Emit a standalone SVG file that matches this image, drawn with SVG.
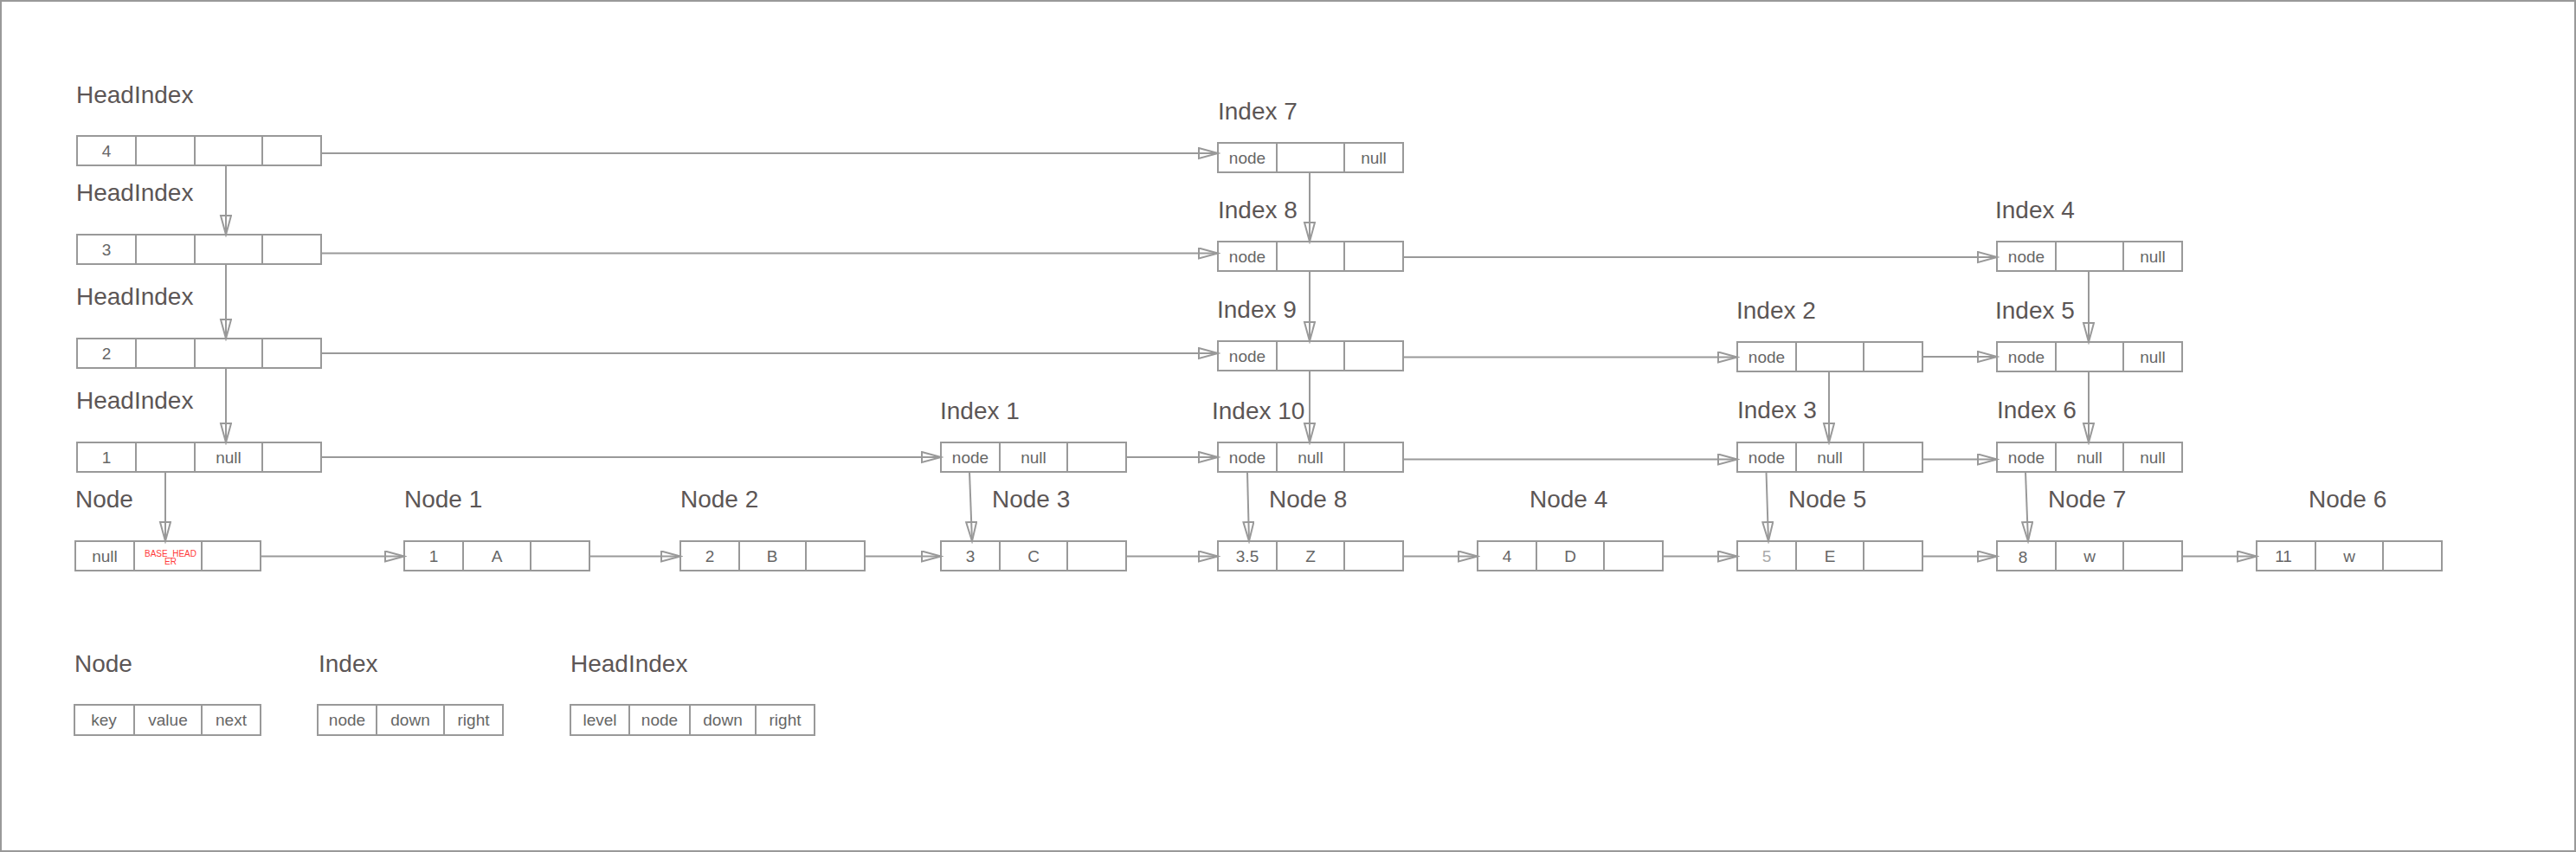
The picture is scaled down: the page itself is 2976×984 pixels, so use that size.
<svg xmlns="http://www.w3.org/2000/svg" width="2976" height="984" viewBox="0 0 2976 984">
<style>
.bx{fill:#fff;stroke:#999;stroke-width:2}
.dv{stroke:#999;stroke-width:2}
.lbl{font-family:"Liberation Sans",Arial,sans-serif;font-size:28px;fill:#5c5656}
.c{font-family:"Liberation Sans",Arial,sans-serif;font-size:19px;fill:#666;text-anchor:middle}
.red{font-family:"Liberation Sans",Arial,sans-serif;font-size:10px;fill:#ff3b3b;text-anchor:middle}
.lt{fill:#aaa}
.cn line{stroke:#999;stroke-width:2;fill:none;marker-end:url(#ah)}
</style>
<defs>
<marker id="ah" markerUnits="userSpaceOnUse" markerWidth="26" markerHeight="16" refX="23" refY="7" orient="auto">
<path d="M1,1 L23,7 L1,13 Z" fill="none" stroke="#999" stroke-width="2"/>
</marker>
</defs>
<rect x="1" y="1" width="2974" height="982" fill="#fff" stroke="#999" stroke-width="2"/>

<!-- Head indexes -->
<g id="head4">
<text class="lbl" x="88" y="119">HeadIndex</text>
<rect class="bx" x="89" y="157" width="282" height="34"/>
<line class="dv" x1="157" y1="157" x2="157" y2="191"/><line class="dv" x1="225" y1="157" x2="225" y2="191"/><line class="dv" x1="303" y1="157" x2="303" y2="191"/>
<text class="c" x="123" y="181">4</text>
</g>
<g id="head3">
<text class="lbl" x="88" y="232">HeadIndex</text>
<rect class="bx" x="89" y="271" width="282" height="34"/>
<line class="dv" x1="157" y1="271" x2="157" y2="305"/><line class="dv" x1="225" y1="271" x2="225" y2="305"/><line class="dv" x1="303" y1="271" x2="303" y2="305"/>
<text class="c" x="123" y="295">3</text>
</g>
<g id="head2">
<text class="lbl" x="88" y="352">HeadIndex</text>
<rect class="bx" x="89" y="391" width="282" height="34"/>
<line class="dv" x1="157" y1="391" x2="157" y2="425"/><line class="dv" x1="225" y1="391" x2="225" y2="425"/><line class="dv" x1="303" y1="391" x2="303" y2="425"/>
<text class="c" x="123" y="415">2</text>
</g>
<g id="head1">
<text class="lbl" x="88" y="472">HeadIndex</text>
<rect class="bx" x="89" y="511" width="282" height="34"/>
<line class="dv" x1="157" y1="511" x2="157" y2="545"/><line class="dv" x1="225" y1="511" x2="225" y2="545"/><line class="dv" x1="303" y1="511" x2="303" y2="545"/>
<text class="c" x="123" y="535">1</text>
<text class="c" x="264" y="535">null</text>
</g>

<!-- Index column 1407 -->
<g id="index7">
<text class="lbl" x="1407" y="138">Index 7</text>
<rect class="bx" x="1407" y="165" width="214" height="34"/>
<line class="dv" x1="1475" y1="165" x2="1475" y2="199"/><line class="dv" x1="1553" y1="165" x2="1553" y2="199"/>
<text class="c" x="1441" y="189">node</text><text class="c" x="1587" y="189">null</text>
</g>
<g id="index8">
<text class="lbl" x="1407" y="252">Index 8</text>
<rect class="bx" x="1407" y="279" width="214" height="34"/>
<line class="dv" x1="1475" y1="279" x2="1475" y2="313"/><line class="dv" x1="1553" y1="279" x2="1553" y2="313"/>
<text class="c" x="1441" y="303">node</text>
</g>
<g id="index9">
<text class="lbl" x="1406" y="367">Index 9</text>
<rect class="bx" x="1407" y="394" width="214" height="34"/>
<line class="dv" x1="1475" y1="394" x2="1475" y2="428"/><line class="dv" x1="1553" y1="394" x2="1553" y2="428"/>
<text class="c" x="1441" y="418">node</text>
</g>
<g id="index10">
<text class="lbl" x="1400" y="484">Index 10</text>
<rect class="bx" x="1407" y="511" width="214" height="34"/>
<line class="dv" x1="1475" y1="511" x2="1475" y2="545"/><line class="dv" x1="1553" y1="511" x2="1553" y2="545"/>
<text class="c" x="1441" y="535">node</text><text class="c" x="1514" y="535">null</text>
</g>
<g id="index1">
<text class="lbl" x="1086" y="484">Index 1</text>
<rect class="bx" x="1087" y="511" width="214" height="34"/>
<line class="dv" x1="1155" y1="511" x2="1155" y2="545"/><line class="dv" x1="1233" y1="511" x2="1233" y2="545"/>
<text class="c" x="1121" y="535">node</text><text class="c" x="1194" y="535">null</text>
</g>
<g id="index2">
<text class="lbl" x="2006" y="368">Index 2</text>
<rect class="bx" x="2007" y="395" width="214" height="34"/>
<line class="dv" x1="2075" y1="395" x2="2075" y2="429"/><line class="dv" x1="2153" y1="395" x2="2153" y2="429"/>
<text class="c" x="2041" y="419">node</text>
</g>
<g id="index3">
<text class="lbl" x="2007" y="483">Index 3</text>
<rect class="bx" x="2007" y="511" width="214" height="34"/>
<line class="dv" x1="2075" y1="511" x2="2075" y2="545"/><line class="dv" x1="2153" y1="511" x2="2153" y2="545"/>
<text class="c" x="2041" y="535">node</text><text class="c" x="2114" y="535">null</text>
</g>
<g id="index4">
<text class="lbl" x="2305" y="252">Index 4</text>
<rect class="bx" x="2307" y="279" width="214" height="34"/>
<line class="dv" x1="2375" y1="279" x2="2375" y2="313"/><line class="dv" x1="2453" y1="279" x2="2453" y2="313"/>
<text class="c" x="2341" y="303">node</text><text class="c" x="2487" y="303">null</text>
</g>
<g id="index5">
<text class="lbl" x="2305" y="368">Index 5</text>
<rect class="bx" x="2307" y="395" width="214" height="34"/>
<line class="dv" x1="2375" y1="395" x2="2375" y2="429"/><line class="dv" x1="2453" y1="395" x2="2453" y2="429"/>
<text class="c" x="2341" y="419">node</text><text class="c" x="2487" y="419">null</text>
</g>
<g id="index6">
<text class="lbl" x="2307" y="483">Index 6</text>
<rect class="bx" x="2307" y="511" width="214" height="34"/>
<line class="dv" x1="2375" y1="511" x2="2375" y2="545"/><line class="dv" x1="2453" y1="511" x2="2453" y2="545"/>
<text class="c" x="2341" y="535">node</text><text class="c" x="2414" y="535">null</text><text class="c" x="2487" y="535">null</text>
</g>

<!-- Nodes -->
<g id="node0">
<text class="lbl" x="87" y="586">Node</text>
<rect class="bx" x="87" y="625" width="214" height="34"/>
<line class="dv" x1="155" y1="625" x2="155" y2="659"/><line class="dv" x1="233" y1="625" x2="233" y2="659"/>
<text class="c" x="121" y="649">null</text>
<text class="red" x="197" y="643">BASE_HEAD</text><text class="red" x="197" y="652">ER</text>
</g>
<g id="node1">
<text class="lbl" x="467" y="586">Node 1</text>
<rect class="bx" x="467" y="625" width="214" height="34"/>
<line class="dv" x1="535" y1="625" x2="535" y2="659"/><line class="dv" x1="613" y1="625" x2="613" y2="659"/>
<text class="c" x="501" y="649">1</text><text class="c" x="574" y="649">A</text>
</g>
<g id="node2">
<text class="lbl" x="786" y="586">Node 2</text>
<rect class="bx" x="786" y="625" width="213" height="34"/>
<line class="dv" x1="854" y1="625" x2="854" y2="659"/><line class="dv" x1="931" y1="625" x2="931" y2="659"/>
<text class="c" x="820" y="649">2</text><text class="c" x="892" y="649">B</text>
</g>
<g id="node3">
<text class="lbl" x="1146" y="586">Node 3</text>
<rect class="bx" x="1087" y="625" width="214" height="34"/>
<line class="dv" x1="1155" y1="625" x2="1155" y2="659"/><line class="dv" x1="1233" y1="625" x2="1233" y2="659"/>
<text class="c" x="1121" y="649">3</text><text class="c" x="1194" y="649">C</text>
</g>
<g id="node8">
<text class="lbl" x="1466" y="586">Node 8</text>
<rect class="bx" x="1407" y="625" width="214" height="34"/>
<line class="dv" x1="1475" y1="625" x2="1475" y2="659"/><line class="dv" x1="1553" y1="625" x2="1553" y2="659"/>
<text class="c" x="1441" y="649">3.5</text><text class="c" x="1514" y="649">Z</text>
</g>
<g id="node4">
<text class="lbl" x="1767" y="586">Node 4</text>
<rect class="bx" x="1707" y="625" width="214" height="34"/>
<line class="dv" x1="1775" y1="625" x2="1775" y2="659"/><line class="dv" x1="1853" y1="625" x2="1853" y2="659"/>
<text class="c" x="1741" y="649">4</text><text class="c" x="1814" y="649">D</text>
</g>
<g id="node5">
<text class="lbl" x="2066" y="586">Node 5</text>
<rect class="bx" x="2007" y="625" width="214" height="34"/>
<line class="dv" x1="2075" y1="625" x2="2075" y2="659"/><line class="dv" x1="2153" y1="625" x2="2153" y2="659"/>
<text class="c lt" x="2041" y="649">5</text><text class="c" x="2114" y="649">E</text>
</g>
<g id="node7">
<text class="lbl" x="2366" y="586">Node 7</text>
<rect class="bx" x="2307" y="625" width="214" height="34"/>
<line class="dv" x1="2375" y1="625" x2="2375" y2="659"/><line class="dv" x1="2453" y1="625" x2="2453" y2="659"/>
<text class="c" x="2337" y="650">8</text><text class="c" x="2414" y="649">w</text>
</g>
<g id="node6">
<text class="lbl" x="2667" y="586">Node 6</text>
<rect class="bx" x="2607" y="625" width="214" height="34"/>
<line class="dv" x1="2675" y1="625" x2="2675" y2="659"/><line class="dv" x1="2753" y1="625" x2="2753" y2="659"/>
<text class="c" x="2638" y="649">11</text><text class="c" x="2714" y="649">w</text>
</g>

<!-- Legend -->
<g id="legend-node">
<text class="lbl" x="86" y="776">Node</text>
<rect class="bx" x="86" y="814" width="215" height="35"/>
<line class="dv" x1="155" y1="814" x2="155" y2="849"/><line class="dv" x1="233" y1="814" x2="233" y2="849"/>
<text class="c" x="120" y="838">key</text><text class="c" x="194" y="838">value</text><text class="c" x="267" y="838">next</text>
</g>
<g id="legend-index">
<text class="lbl" x="368" y="776">Index</text>
<rect class="bx" x="367" y="814" width="214" height="35"/>
<line class="dv" x1="435" y1="814" x2="435" y2="849"/><line class="dv" x1="513" y1="814" x2="513" y2="849"/>
<text class="c" x="401" y="838">node</text><text class="c" x="474" y="838">down</text><text class="c" x="547" y="838">right</text>
</g>
<g id="legend-headindex">
<text class="lbl" x="659" y="776">HeadIndex</text>
<rect class="bx" x="659" y="814" width="282" height="35"/>
<line class="dv" x1="727" y1="814" x2="727" y2="849"/><line class="dv" x1="797" y1="814" x2="797" y2="849"/><line class="dv" x1="873" y1="814" x2="873" y2="849"/>
<text class="c" x="693" y="838">level</text><text class="c" x="762" y="838">node</text><text class="c" x="835" y="838">down</text><text class="c" x="907" y="838">right</text>
</g>

<!-- Connectors -->
<g id="connectors" class="cn">
<line x1="371" y1="177" x2="1407" y2="177"/>
<line x1="371" y1="292.5" x2="1407" y2="292.5"/>
<line x1="1621" y1="297" x2="2307" y2="297"/>
<line x1="371" y1="408" x2="1407" y2="408"/>
<line x1="1621" y1="412.5" x2="2007" y2="412.5"/>
<line x1="2221" y1="412" x2="2307" y2="412"/>
<line x1="371" y1="528" x2="1087" y2="528"/>
<line x1="1301" y1="528" x2="1407" y2="528"/>
<line x1="1621" y1="530.5" x2="2007" y2="530.5"/>
<line x1="2221" y1="530.5" x2="2307" y2="530.5"/>
<line x1="301" y1="642.5" x2="467" y2="642.5"/>
<line x1="681" y1="642.5" x2="786" y2="642.5"/>
<line x1="999" y1="642.5" x2="1087" y2="642.5"/>
<line x1="1301" y1="642.5" x2="1407" y2="642.5"/>
<line x1="1621" y1="642.5" x2="1707" y2="642.5"/>
<line x1="1921" y1="642.5" x2="2007" y2="642.5"/>
<line x1="2221" y1="642.5" x2="2307" y2="642.5"/>
<line x1="2521" y1="642.5" x2="2607" y2="642.5"/>
<line x1="261" y1="191" x2="261" y2="271"/>
<line x1="261" y1="305" x2="261" y2="391"/>
<line x1="261" y1="425" x2="261" y2="511"/>
<line x1="191" y1="545" x2="191" y2="625"/>
<line x1="1513" y1="199" x2="1513" y2="279"/>
<line x1="1513" y1="313" x2="1513" y2="394"/>
<line x1="1513" y1="428" x2="1513" y2="511"/>
<line x1="1441" y1="545" x2="1443" y2="625"/>
<line x1="1120" y1="545" x2="1123" y2="625"/>
<line x1="2413" y1="313" x2="2413" y2="395"/>
<line x1="2413" y1="429" x2="2413" y2="511"/>
<line x1="2113" y1="429" x2="2113" y2="511"/>
<line x1="2040.5" y1="545" x2="2043" y2="625"/>
<line x1="2340" y1="545" x2="2343" y2="625"/>
</g>
</svg>
